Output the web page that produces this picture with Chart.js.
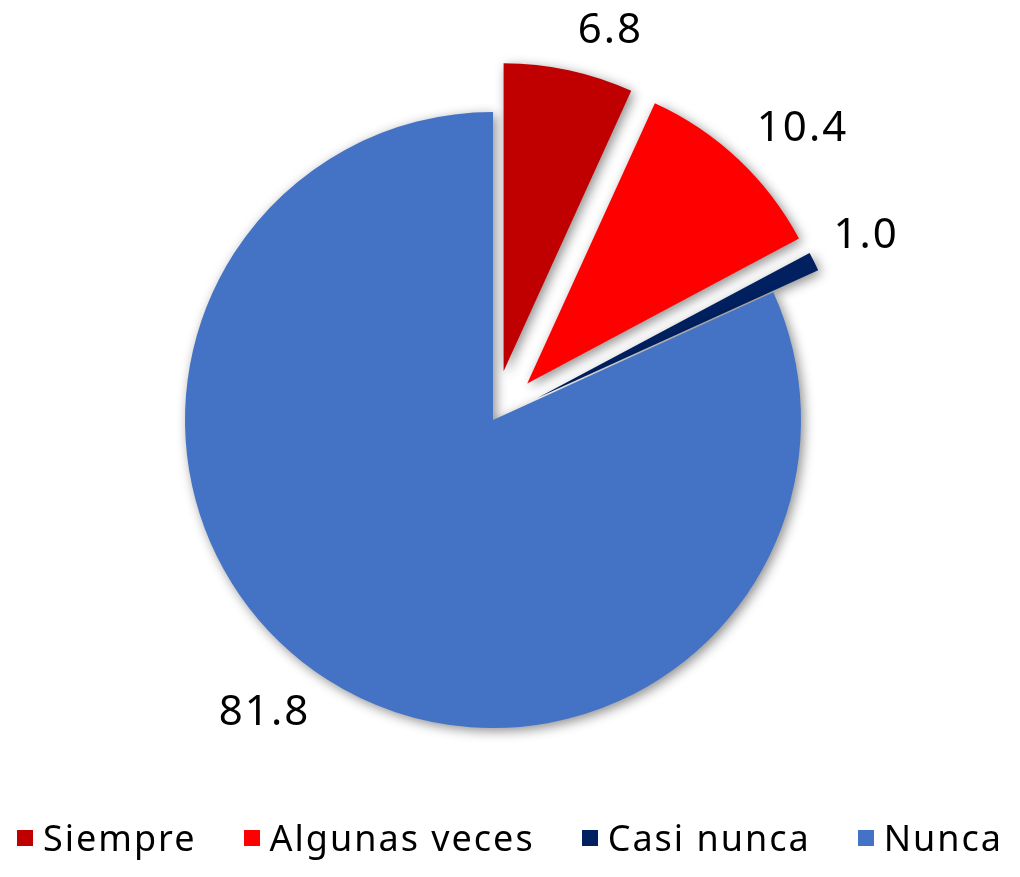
<!DOCTYPE html>
<html>
<head>
<meta charset="utf-8">
<script src="https://cdn.jsdelivr.net/npm/chart.js@4.4.0/dist/chart.umd.min.js"></script>
<style>
  body { margin: 0; background: #fff; }
  #wrap { position: relative; width: 1020px; height: 877px; }
  #legend {
    position: absolute; left: 0; top: 818px; width: 1020px;
    display: flex; justify-content: center; gap: 47px;
    font-family: "Noto Sans", sans-serif; font-size: 36px; line-height: 40px;
    letter-spacing: 2px; color: #000;
  }
  #legend .item { display: flex; align-items: center; white-space: nowrap; }
  #legend .box { width: 16px; height: 16px; margin-right: 10px; }
</style>
</head>
<body>
<div id="wrap">
  <canvas id="pieChart" width="1020" height="877"></canvas>
  <div id="legend"></div>
</div>
<script>
// ======================
// Data
// ======================
const categories = ["Siempre", "Algunas veces", "Casi nunca", "Nunca"];
const values = [6.8, 10.4, 1.0, 81.8];
const sliceColors = ["#C00000", "#FF0000", "#002060", "#4472C4"];

// Style: how far each slice is pulled out (px) and small label angle nudges (rad)
const explode = [50, 50, 50, 0];
const labelNudge = [0.09, 0.07, 0, 0.09];

// ======================
// Pull slices out along their middle angle
// (moving the arc centre keeps the full angle and radius)
// ======================
const explodePlugin = {
  id: "explodeSlices",
  afterDatasetsUpdate(chart) {
    const meta = chart.getDatasetMeta(0);
    meta.data.forEach((arc, i) => {
      const mid = (arc.startAngle + arc.endAngle) / 2;
      arc.x += Math.cos(mid) * explode[i];
      arc.y += Math.sin(mid) * explode[i];
    });
  }
};

// ======================
// Soft shadow under the slices
// ======================
const shadowPlugin = {
  id: "sliceShadow",
  beforeDatasetsDraw(chart) {
    const ctx = chart.ctx;
    ctx.save();
    ctx.shadowColor = "rgba(0,0,0,0.45)";
    ctx.shadowBlur = 12;
    ctx.shadowOffsetX = 3;
    ctx.shadowOffsetY = 3;
  },
  afterDatasetsDraw(chart) {
    chart.ctx.restore();
  }
};

// ======================
// Value labels outside each slice
// ======================
const labelPlugin = {
  id: "outsideLabels",
  afterDatasetsDraw(chart) {
    const ctx = chart.ctx;
    const meta = chart.getDatasetMeta(0);
    ctx.save();
    ctx.font = "42px 'Noto Sans', sans-serif";
    ctx.letterSpacing = "2px";
    ctx.fillStyle = "#000";
    ctx.textAlign = "center";
    ctx.textBaseline = "middle";
    meta.data.forEach((arc, i) => {
      const mid = (arc.startAngle + arc.endAngle) / 2;
      const a = mid + labelNudge[i];
      const dx = Math.cos(a), dy = Math.sin(a);
      const text = values[i].toFixed(1);
      const w = ctx.measureText(text).width;
      const h = 40;
      const d = arc.outerRadius + 20 + Math.abs(dx) * w / 2 + Math.abs(dy) * h / 2;
      ctx.fillText(text, arc.x + dx * d, arc.y + dy * d);
    });
    ctx.restore();
  }
};

new Chart(document.getElementById("pieChart"), {
  type: "pie",
  data: {
    labels: categories,
    datasets: [{
      data: values,
      backgroundColor: sliceColors,
      borderWidth: 0,
      hoverOffset: 0
    }]
  },
  options: {
    responsive: false,
    animation: false,
    events: [],
    clip: false,
    layout: { padding: { top: 112, bottom: 149, left: 0, right: 34 } },
    plugins: {
      legend: { display: false },
      tooltip: { enabled: false }
    }
  },
  plugins: [explodePlugin, shadowPlugin, labelPlugin]
});

// Legend
const legendEl = document.getElementById("legend");
categories.forEach((name, i) => {
  const item = document.createElement("div");
  item.className = "item";
  item.innerHTML = `<span class="box" style="background:${sliceColors[i]}"></span><span>${name}</span>`;
  legendEl.appendChild(item);
});
</script>
</body>
</html>
